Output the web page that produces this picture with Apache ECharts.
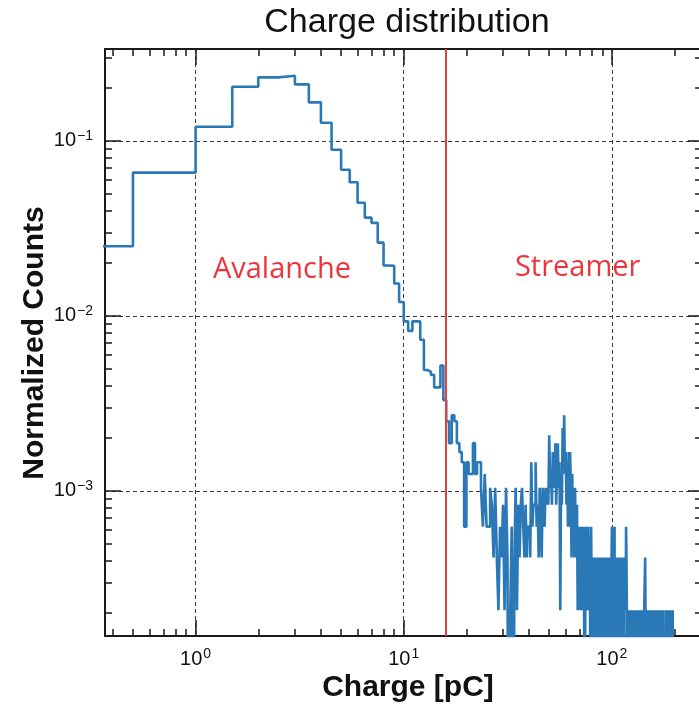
<!DOCTYPE html>
<html>
<head>
<meta charset="utf-8">
<title>Charge distribution</title>
<script src="https://cdn.jsdelivr.net/npm/echarts@6/dist/echarts.min.js"></script>
<style>
  html, body { margin: 0; padding: 0; background: #ffffff; }
  #chart { width: 699px; height: 704px; }
</style>
</head>
<body>
<div id="chart"></div>
<script>
// Histogram of collected charge, 0.5 pC bins starting at 0 pC.
const BIN_WIDTH_PC = 0.5;

// Normalized content of the bins from 0 to 16 pC (avalanche regime).
const avalancheNorm = [
  0.0250, 0.0658, 0.1204, 0.2040, 0.2307, 0.2356, 0.2103, 0.1660,
  0.1269, 0.0890, 0.0684, 0.0580, 0.0443, 0.0364, 0.0340, 0.0262,
  0.0194, 0.0193, 0.0153, 0.0120, 0.0093, 0.0082, 0.0093, 0.0093,
  0.0073, 0.0049, 0.0048, 0.0046, 0.0039, 0.0039, 0.0052, 0.0033
];

// Raw event counts of the bins from 16 pC upward (streamer regime).
const streamerCounts = [
  12, 9, 13, 12, 9, 8, 7, 3, 7, 6,    // 16-21 pC
  6, 9, 6, 7, 7, 5, 3, 6, 3, 3,       // 21-26
  5, 4, 2, 5, 2, 1, 3, 2, 4, 1,       // 26-31
  5, 2, 0, 1, 3, 0, 2, 5, 1, 4,       // 31-36
  2, 4, 5, 3, 2, 4, 2, 3, 3, 2,       // 36-41
  7, 3, 4, 4, 7, 3, 4, 2, 5, 3,       // 41-46
  2, 5, 4, 3, 5, 4, 5, 4, 10, 5,      // 46-51
  6, 4, 8, 6, 5, 9, 4, 6, 9, 5,       // 51-56
  7, 1, 6, 4, 11, 7, 13, 6, 8, 4,     // 56-61
  7, 3, 8, 3, 8, 5, 2, 6, 3, 4,       // 61-66
  2, 5, 3, 2, 4, 1, 3, 2, 3, 1,       // 66-71
  2, 3, 1, 2, 3, 2, 0, 1, 3, 1,       // 71-76
  2, 1, 3, 2, 1, 2, 0, 3, 1, 2,       // 76-81
  1, 0, 2, 1, 1, 2, 1, 0, 2, 1,       // 81-86
  1, 2, 0, 1, 2, 1, 1, 0, 1, 2,       // 86-91
  0, 1, 1, 2, 1, 0, 1, 2, 1, 0,       // 91-96
  2, 1, 1, 0, 1, 2, 1, 1, 3, 1,       // 96-101
  0, 2, 1, 1, 3, 0, 1, 2, 1, 2,       // 101-106
  0, 1, 1, 0, 2, 1, 0, 1, 2, 1,       // 106-111
  2, 0, 2, 1, 2, 2, 0, 2, 1, 2,       // 111-116
  2, 1, 3, 2, 1, 0, 1, 1, 1, 1,       // 116-121
  0, 1, 1, 1, 0, 1, 1, 1, 0, 1,       // 121-126
  1, 1, 1, 0, 1, 1, 1, 0, 1, 1,       // 126-131
  1, 0, 1, 1, 1, 1, 0, 1, 1, 0,       // 131-136
  1, 1, 1, 1, 0, 1, 1, 1, 1, 0,       // 136-141
  1, 1, 1, 0, 1, 1, 1, 2, 1, 1,       // 141-146
  0, 1, 1, 0, 0, 0, 0, 0, 1, 1,       // 146-151
  0, 1, 1, 1, 1, 0, 1, 1, 1, 0,       // 151-156
  1, 1, 0, 0, 1, 1, 1, 1, 0, 1,       // 156-161
  1, 0, 1, 1, 1, 0, 0, 1, 1, 1,       // 161-166
  1, 1, 0, 0, 0, 0, 1, 0, 1, 1,       // 166-171
  0, 0, 0, 1, 1, 1, 0, 0, 0, 0,       // 171-176
  0, 1, 1, 1, 0, 0, 0, 0, 0, 0,       // 176-181
  0, 0, 1, 1, 1, 0, 1, 1, 1, 1,       // 181-186
  1, 1, 0, 1, 1, 1, 1, 1, 1, 0,       // 186-191
  1, 1, 0, 0, 0, 0, 0, 0, 0, 0,       // 191-196
  1, 0                                // 196-197
];

// Normalized height of a single event.
const NORM_PER_COUNT = 2.08e-4;

// Boundary between the two discharge regimes.
const THRESHOLD_PC = 16;

// Axis tick values.
const xMajorTicks = [1, 10, 100];
const xMinorTicks = [0.4, 0.5, 0.6, 0.7, 0.8, 0.9, 2, 3, 4, 5, 6, 7, 8, 9,
                     20, 30, 40, 50, 60, 70, 80, 90, 200];
const yMajorTicks = [0.001, 0.01, 0.1];
const yMinorTicks = [0.0002, 0.0003, 0.0004, 0.0005, 0.0006, 0.0007, 0.0008, 0.0009,
                     0.002, 0.003, 0.004, 0.005, 0.006, 0.007, 0.008, 0.009,
                     0.02, 0.03, 0.04, 0.05, 0.06, 0.07, 0.08, 0.09, 0.2, 0.3];

// Visible axis ranges.
const X_RANGE = [0.367, 268];
const Y_RANGE = [1.48e-4, 0.335];

// ---- build the step outline -------------------------------------------
// Empty bins drop below the visible range and get clipped by the frame.
const EMPTY_LEVEL = 1e-6;
const binValues = avalancheNorm.concat(streamerCounts.map(c => c * NORM_PER_COUNT));
const stepPoints = binValues.map((v, i) => [
  Math.max(i * BIN_WIDTH_PC, 1e-3),
  v > 0 ? v : EMPTY_LEVEL
]);
stepPoints.push([binValues.length * BIN_WIDTH_PC, EMPTY_LEVEL]);

// ---- styling helpers ---------------------------------------------------
const FRAME = '#1a1a1a';
const LABEL_FONT = '"Liberation Sans", Arial, sans-serif';

function powerLabel(v) {
  const e = Math.round(Math.log10(v));
  return '{b|10}{s|' + (e < 0 ? '\u2212' : '') + Math.abs(e) + '}';
}
const powerRich = {
  b: { fontFamily: LABEL_FONT, fontSize: 20, color: '#111' },
  s: { fontFamily: LABEL_FONT, fontSize: 14, color: '#111', verticalAlign: 'bottom', padding: [0, 0, 10, 1] }
};

function logAxis(opts) {
  return Object.assign({
    type: 'log',
    logBase: 10,
    gridIndex: 0,
    axisLine: { show: false, onZero: false },
    axisTick: { show: false },
    axisLabel: { show: false },
    splitLine: { show: false },
    minorTick: { show: false },
    silent: true
  }, opts);
}

function tickSet(values, len) {
  return { show: true, inside: true, length: len, customValues: values,
           lineStyle: { color: FRAME, width: 1.5 } };
}

const dashedGrid = { show: true, lineStyle: { color: '#3a3a3a', width: 1, type: [4, 3] } };

const xAxes = [
  logAxis({
    min: X_RANGE[0], max: X_RANGE[1], position: 'bottom',
    axisLine: { show: true, onZero: false, lineStyle: { color: FRAME, width: 2 } },
    axisTick: tickSet(xMajorTicks, 16),
    axisLabel: { show: true, customValues: xMajorTicks, margin: 11, formatter: powerLabel, rich: powerRich },
    splitLine: dashedGrid
  }),
  logAxis({ min: X_RANGE[0], max: X_RANGE[1], position: 'bottom', axisTick: tickSet(xMinorTicks, 7) }),
  logAxis({
    min: X_RANGE[0], max: X_RANGE[1], position: 'top',
    axisLine: { show: true, onZero: false, lineStyle: { color: FRAME, width: 2 } },
    axisTick: tickSet(xMajorTicks, 16)
  }),
  logAxis({ min: X_RANGE[0], max: X_RANGE[1], position: 'top', axisTick: tickSet(xMinorTicks, 7) })
];

const yAxes = [
  logAxis({
    min: Y_RANGE[0], max: Y_RANGE[1], position: 'left',
    axisLine: { show: true, onZero: false, lineStyle: { color: FRAME, width: 2 } },
    axisTick: tickSet(yMajorTicks, 16),
    axisLabel: { show: true, customValues: yMajorTicks, margin: 12, formatter: powerLabel, rich: powerRich },
    splitLine: dashedGrid
  }),
  logAxis({ min: Y_RANGE[0], max: Y_RANGE[1], position: 'left', axisTick: tickSet(yMinorTicks, 7) }),
  logAxis({
    min: Y_RANGE[0], max: Y_RANGE[1], position: 'right',
    axisTick: tickSet(yMajorTicks, 13)
  }),
  logAxis({ min: Y_RANGE[0], max: Y_RANGE[1], position: 'right', axisTick: tickSet(yMinorTicks, 6) })
];

const chart = echarts.init(document.getElementById('chart'), null, { renderer: 'canvas' });

chart.setOption({
  animation: false,
  backgroundColor: '#ffffff',
  grid: {
    left: 105, top: 49, width: 596, height: 587,
    containLabel: false, outerBoundsMode: 'none'
  },
  xAxis: xAxes,
  yAxis: yAxes,
  series: [
    {
      name: 'Charge',
      type: 'line',
      xAxisIndex: 0,
      yAxisIndex: 0,
      step: 'end',
      data: stepPoints,
      showSymbol: false,
      symbol: 'none',
      clip: true,
      lineStyle: { color: '#2a78b5', width: 2.6 },
      z: 3,
      markLine: {
        silent: true,
        symbol: ['none', 'none'],
        label: { show: false },
        lineStyle: { color: '#e8403a', width: 2, type: 'solid' },
        data: [{ xAxis: THRESHOLD_PC }]
      }
    },
    {
      name: 'Regimes',
      type: 'scatter',
      xAxisIndex: 0,
      yAxisIndex: 0,
      symbolSize: 0,
      silent: true,
      z: 4,
      data: [
        { value: [2.6, 0.0183], label: { formatter: 'Avalanche' } },
        { value: [68.5, 0.0188], label: { formatter: 'Streamer' } }
      ],
      label: {
        show: true,
        position: 'inside',
        color: '#e8000b',
        fontFamily: '"Open Sans", Lato, sans-serif',
        fontSize: 29
      }
    }
  ],
  graphic: [
    {
      type: 'text', x: 407, y: 23, silent: true,
      style: { text: 'Charge distribution', font: '34px "Liberation Sans", Arial, sans-serif',
               fill: '#111', align: 'center', verticalAlign: 'middle' }
    },
    {
      type: 'text', x: 408, y: 688, silent: true,
      style: { text: 'Charge [pC]', font: 'bold 30px "Liberation Sans", Arial, sans-serif',
               fill: '#111', align: 'center', verticalAlign: 'middle' }
    },
    {
      type: 'text', x: 35, y: 343, rotation: Math.PI / 2, silent: true,
      style: { text: 'Normalized Counts', font: 'bold 30px "Liberation Sans", Arial, sans-serif',
               fill: '#111', align: 'center', verticalAlign: 'middle' }
    }
  ]
});
</script>
</body>
</html>
